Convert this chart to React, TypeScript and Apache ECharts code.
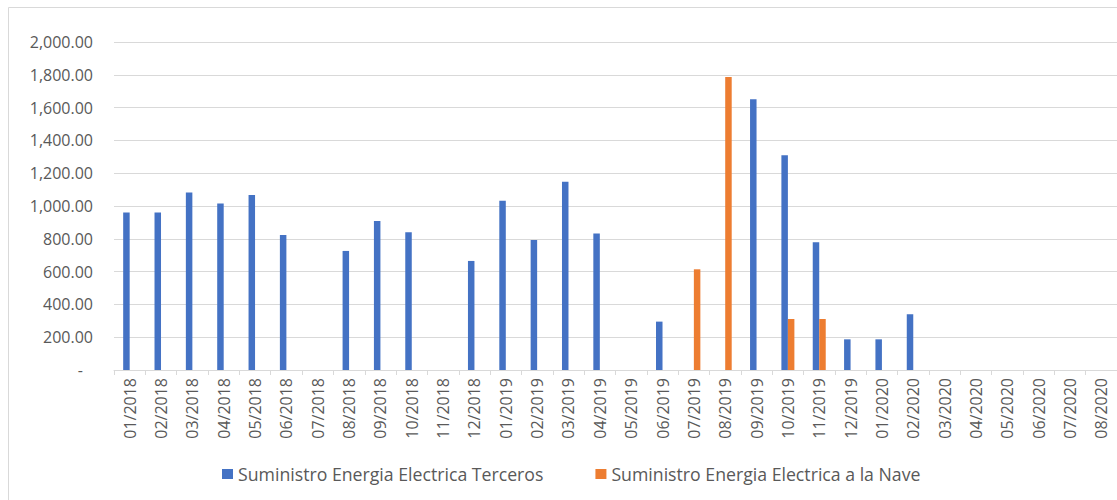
import React, { useEffect, useRef } from "react";
import * as echarts from "echarts";

const categories = [
  "01/2018", "02/2018", "03/2018", "04/2018", "05/2018", "06/2018", "07/2018", "08/2018",
  "09/2018", "10/2018", "11/2018", "12/2018", "01/2019", "02/2019", "03/2019", "04/2019",
  "05/2019", "06/2019", "07/2019", "08/2019", "09/2019", "10/2019", "11/2019", "12/2019",
  "01/2020", "02/2020", "03/2020", "04/2020", "05/2020", "06/2020", "07/2020", "08/2020",
];

const terceros = [
  960, 960, 1082, 1016, 1067, 823, null, 726,
  908, 840, null, 665, 1032, 793, 1148, 833,
  null, 295, null, null, 1651, 1309, 779, 187,
  187, 340, null, null, null, null, null, null,
];

const nave = [
  null, null, null, null, null, null, null, null,
  null, null, null, null, null, null, null, null,
  null, null, 614, 1787, null, 311, 311, null,
  null, null, null, null, null, null, null, null,
];

const seriesNames = [
  "Suministro Energia Electrica Terceros",
  "Suministro Energia Electrica a la Nave",
];

const FONT = "Open Sans";
const TEXT = "#595959";
const GRID = "#d9d9d9";

export default function App() {
  const ref = useRef<HTMLDivElement>(null);
  useEffect(() => {
    document.body.style.margin = "0";
    const chart = echarts.init(ref.current!, null, { renderer: "svg" });
    chart.setOption({
      animation: false,
      backgroundColor: "#fff",
      textStyle: { fontFamily: FONT },
      graphic: [
        {
          type: "rect",
          shape: { x: 8.5, y: 7.5, width: 1300, height: 700 },
          style: { fill: "none", stroke: GRID, lineWidth: 1 },
          silent: true,
        },
      ],
      grid: { left: 114, right: -9, top: 42, bottom: 130 },
      legend: {
        top: 460,
        left: 217,
        itemWidth: 11,
        itemHeight: 10,
        itemGap: 52,
        icon: "rect",
        textStyle: { color: TEXT, fontSize: 17.7, fontFamily: FONT },
        data: seriesNames,
      },
      xAxis: {
        type: "category",
        data: categories,
        axisLine: { lineStyle: { color: GRID } },
        axisTick: { show: true, length: 5, lineStyle: { color: GRID } },
        axisLabel: { rotate: 90, color: TEXT, fontSize: 16, fontFamily: FONT, margin: 8, interval: 0 },
      },
      yAxis: {
        type: "value",
        min: 0,
        max: 2000,
        interval: 200,
        axisLine: { show: false },
        axisTick: { show: false },
        splitLine: { lineStyle: { color: GRID } },
        axisLabel: {
          color: TEXT,
          fontSize: 16,
          fontFamily: FONT,
          margin: 21,
          formatter: (v: number) =>
            v === 0
              ? "{d|-}"
              : v.toLocaleString("en-US", { minimumFractionDigits: 2, maximumFractionDigits: 2 }),
          rich: { d: { color: TEXT, fontSize: 16, fontFamily: FONT, padding: [0, 10, 0, 0] } },
        },
      },
      series: [
        {
          name: seriesNames[0],
          type: "bar",
          data: terceros,
          barWidth: 6.5,
          barGap: "0%",
          itemStyle: { color: "#4472C4" },
        },
        {
          name: seriesNames[1],
          type: "bar",
          data: nave,
          barWidth: 6.5,
          barGap: "0%",
          itemStyle: { color: "#ED7D31" },
        },
      ],
    });
    return () => chart.dispose();
  }, []);
  return <div ref={ref} style={{ width: 1117, height: 500 }} />;
}
